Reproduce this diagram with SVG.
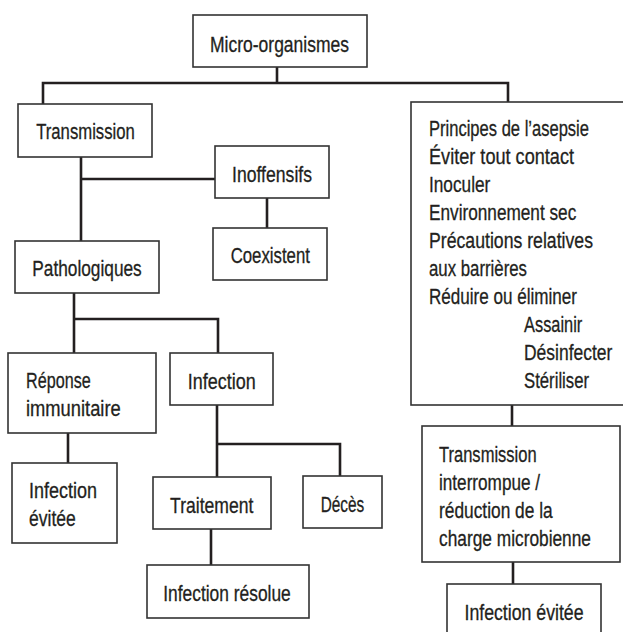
<svg xmlns="http://www.w3.org/2000/svg" width="623" height="632" viewBox="0 0 623 632">
<style>
.box{fill:#fff;stroke:#333;stroke-width:1.6}
.con{fill:none;stroke:#231f20;stroke-width:2.6}
text{font-family:"Liberation Sans",Arial,sans-serif;font-size:21.5px;fill:#231f20;stroke:#231f20;stroke-width:0.3}
.c{text-anchor:middle}
</style>
<rect width="623" height="632" fill="#fff"/>
<g id="connectors">
<path class="con" d="M277 67V83M43 104V83H508V102"/>
<path class="con" d="M81 157V241M81 179H215"/>
<path class="con" d="M267 198V228"/>
<path class="con" d="M74 293V353M74 319H218V353"/>
<path class="con" d="M68 433V463"/>
<path class="con" d="M217 405V477M217 444H340V476"/>
<path class="con" d="M211 529V565"/>
<path class="con" d="M512 405V426"/>
<path class="con" d="M513 562V584"/>
</g>
<g id="micro"><rect class="box" x="193" y="15" width="174" height="52"/><text class="c" transform="matrix(0.8 0 0 1 279.5 52)" textLength="173.8" lengthAdjust="spacingAndGlyphs">Micro-organismes</text></g>
<g id="transmission"><rect class="box" x="18" y="104" width="134" height="53"/><text class="c" transform="matrix(0.8 0 0 1 85.5 139)" textLength="123.4" lengthAdjust="spacingAndGlyphs">Transmission</text></g>
<g id="inoffensifs"><rect class="box" x="215" y="146" width="114" height="52"/><text class="c" transform="matrix(0.8 0 0 1 272 181.5)" textLength="100" lengthAdjust="spacingAndGlyphs">Inoffensifs</text></g>
<g id="coexistent"><rect class="box" x="213" y="228" width="114" height="52"/><text class="c" transform="matrix(0.8 0 0 1 270.3 263)" textLength="99.1" lengthAdjust="spacingAndGlyphs">Coexistent</text></g>
<g id="pathologiques"><rect class="box" x="15" y="241" width="144" height="52"/><text class="c" transform="matrix(0.8 0 0 1 87 276)" textLength="136.8" lengthAdjust="spacingAndGlyphs">Pathologiques</text></g>
<g id="reponse"><rect class="box" x="8" y="353" width="148" height="80"/><text transform="matrix(0.8 0 0 1 26 388)" textLength="80.9" lengthAdjust="spacingAndGlyphs">Réponse</text><text transform="matrix(0.8 0 0 1 26 416)" textLength="118.4" lengthAdjust="spacingAndGlyphs">immunitaire</text></g>
<g id="infection"><rect class="box" x="170" y="353" width="103" height="52"/><text class="c" transform="matrix(0.8 0 0 1 221.7 389)" textLength="85" lengthAdjust="spacingAndGlyphs">Infection</text></g>
<g id="evitee1"><rect class="box" x="12" y="463" width="105" height="80"/><text transform="matrix(0.8 0 0 1 29 498)" textLength="85" lengthAdjust="spacingAndGlyphs">Infection</text><text transform="matrix(0.8 0 0 1 29 526)" textLength="58.4" lengthAdjust="spacingAndGlyphs">évitée</text></g>
<g id="traitement"><rect class="box" x="153" y="477" width="118" height="52"/><text class="c" transform="matrix(0.8 0 0 1 211.7 512.5)" textLength="104.1" lengthAdjust="spacingAndGlyphs">Traitement</text></g>
<g id="deces"><rect class="box" x="303" y="476" width="79" height="52"/><text class="c" transform="matrix(0.8 0 0 1 342.5 511.5)" textLength="54.5" lengthAdjust="spacingAndGlyphs">Décès</text></g>
<g id="resolue"><rect class="box" x="147" y="565" width="162" height="53"/><text class="c" transform="matrix(0.8 0 0 1 227 600.5)" textLength="159.3" lengthAdjust="spacingAndGlyphs">Infection résolue</text></g>
<g id="principes"><rect class="box" x="411" y="102" width="216" height="303"/>
<text transform="matrix(0.8 0 0 1 429 136)" textLength="200" lengthAdjust="spacingAndGlyphs">Principes de l’asepsie</text>
<text transform="matrix(0.8 0 0 1 429 164)" textLength="181.3" lengthAdjust="spacingAndGlyphs">Éviter tout contact</text>
<text transform="matrix(0.8 0 0 1 429 192)" textLength="76.6" lengthAdjust="spacingAndGlyphs">Inoculer</text>
<text transform="matrix(0.8 0 0 1 429 220)" textLength="184.1" lengthAdjust="spacingAndGlyphs">Environnement sec</text>
<text transform="matrix(0.8 0 0 1 429 248)" textLength="205" lengthAdjust="spacingAndGlyphs">Précautions relatives</text>
<text transform="matrix(0.8 0 0 1 429 276)" textLength="122.5" lengthAdjust="spacingAndGlyphs">aux barrières</text>
<text transform="matrix(0.8 0 0 1 429 304)" textLength="185" lengthAdjust="spacingAndGlyphs">Réduire ou éliminer</text>
<text transform="matrix(0.8 0 0 1 524 332)" textLength="72.9" lengthAdjust="spacingAndGlyphs">Assainir</text>
<text transform="matrix(0.8 0 0 1 524 360)" textLength="110.4" lengthAdjust="spacingAndGlyphs">Désinfecter</text>
<text transform="matrix(0.8 0 0 1 524 388)" textLength="81.3" lengthAdjust="spacingAndGlyphs">Stériliser</text>
</g>
<g id="interrompue"><rect class="box" x="422" y="426" width="198" height="136"/>
<text transform="matrix(0.8 0 0 1 439 461.5)" textLength="122.1" lengthAdjust="spacingAndGlyphs">Transmission</text>
<text transform="matrix(0.8 0 0 1 439 489.5)" textLength="126.3" lengthAdjust="spacingAndGlyphs">interrompue /</text>
<text transform="matrix(0.8 0 0 1 439 517.5)" textLength="142.1" lengthAdjust="spacingAndGlyphs">réduction de la</text>
<text transform="matrix(0.8 0 0 1 439 545.5)" textLength="190" lengthAdjust="spacingAndGlyphs">charge microbienne</text>
</g>
<g id="evitee2"><rect class="box" x="447" y="584" width="154" height="60"/><text class="c" transform="matrix(0.8 0 0 1 524 620)" textLength="148.8" lengthAdjust="spacingAndGlyphs">Infection évitée</text></g>
</svg>
